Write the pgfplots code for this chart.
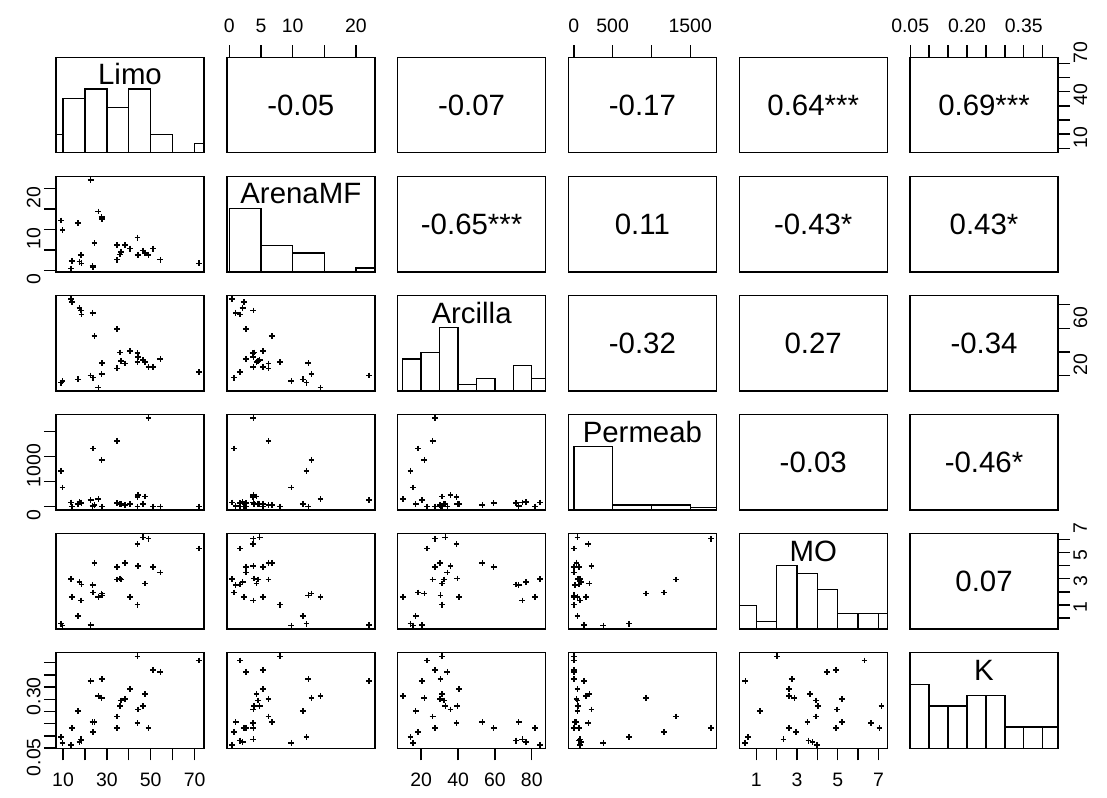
\documentclass[border=0pt]{standalone}
\usepackage{pgfplots}
\pgfplotsset{compat=1.18}
\usepackage{pgfplotstable}
\usepackage{fontspec}
\setmainfont{Liberation Sans}

\pgfplotstableread{
Limo Arena Arcilla Perm MO K
9.2 12.2 14.2 713 0.58 0.095
9.8 9.8 15.6 380 0.44 0.072
13.7 0.4 84.6 80 3.98 0.064
14.0 2.3 81.8 0 2.62 0.133
16.7 11.6 17.0 47 1.17 0.202
17.5 2.1 76.8 93 3.76 0.075
18.3 3.8 74.9 80 2.34 0.086
18.4 1.7 71.5 67 3.56 0.081
22.6 22.1 20.3 133 0.46 0.325
23.5 1.0 72.9 13 3.51 0.157
23.8 0.7 18.4 1160 2.95 0.117
24.4 6.7 53.2 33 5.21 0.157
26.1 14.4 10.0 153 2.62 0.264
27.6 13.0 21.7 933 2.87 0.256
27.9 12.5 30.5 0 2.74 0.333
34.6 2.6 59.3 67 4.91 0.133
34.6 6.2 26.2 1313 3.94 0.180
36.0 3.9 39.6 53 4.02 0.223
36.5 4.5 32.3 47 3.94 0.245
38.2 6.2 30.3 33 5.21 0.252
40.6 5.3 40.6 47 2.62 0.293
44.0 8.0 31.4 0 2.03 0.426
44.0 3.7 39.2 187 6.64 0.152
44.3 3.8 35.9 227 4.97 0.208
46.4 4.8 33.1 47 7.15 0.223
47.5 4.3 31.4 200 3.64 0.271
49.0 3.8 27.5 1767 7.05 0.133
51.0 5.3 27.5 0 4.91 0.371
54.4 2.6 34.2 0 4.47 0.363
71.9 1.7 23.1 0 6.31 0.409
}\soil

\newcommand{\tickfont}{\fontsize{19.5}{21}\selectfont}
\newcommand{\bigfont}{\fontsize{29.5}{33}\selectfont}

\pgfplotsset{
  panel/.style={scale only axis, width=148bp, height=95.5bp, anchor=south west,
    axis line style={line width=1.4bp}, xtick=\empty, ytick=\empty,
    tick align=outside, major tick length=12bp,
    tick style={line width=1.4bp, black},
    ticklabel style={font=\tickfont}},
  xLimo/.style={xmin=6.8,xmax=74.3}, yLimo/.style={ymin=6.8,ymax=74.3},
  xArena/.style={xmin=-0.4,xmax=23.0}, yArena/.style={ymin=-0.4,ymax=23.0},
  xArcilla/.style={xmin=7.2,xmax=87.5}, yArcilla/.style={ymin=7.2,ymax=87.5},
  xPerm/.style={xmin=-70,xmax=1837}, yPerm/.style={ymin=-70,ymax=1837},
  xMO/.style={xmin=0.16,xmax=7.43}, yMO/.style={ymin=0.16,ymax=7.43},
  xK/.style={xmin=0.0495,xmax=0.4405}, yK/.style={ymin=0.0495,ymax=0.4405},
  lowx/.style={xtick pos=left, xticklabel pos=left, xticklabel style={yshift=-9bp}},
  upx/.style={xtick pos=right, xticklabel pos=right, xticklabel style={yshift=9bp}},
  lefty/.style={ytick pos=left, yticklabel pos=left, yticklabel style={rotate=90, anchor=south, xshift=-9bp}},
  righty/.style={ytick pos=right, yticklabel pos=right, yticklabel style={rotate=90, anchor=north, xshift=11bp}},
  bLimo/.style={lowx, xtick={10,20,30,40,50,60,70}, xticklabels={10,{},30,{},50,{},70}},
  bArcilla/.style={lowx, xtick={20,40,60,80}, xticklabels={20,40,60,80}},
  bMO/.style={lowx, xtick={1,2,3,4,5,6,7}, xticklabels={1,{},3,{},5,{},7}},
  tArena/.style={upx, xtick={0,5,10,15,20}, xticklabels={0,5,10,{},20}},
  tPerm/.style={upx, xtick={0,500,1000,1500}, xticklabels={0,500,{},1500}},
  tK/.style={upx, xtick={0.05,0.1,0.15,0.2,0.25,0.3,0.35,0.4}, xticklabels={0.05,{},{},0.20,{},{},0.35,{}}},
  lArena/.style={lefty, ytick={0,5,10,15,20}, yticklabels={0,{},10,{},20}},
  lPerm/.style={lefty, ytick={0,500,1000,1500}, yticklabels={0,{},1000,{}}},
  lK/.style={lefty, ytick={0.05,0.1,0.15,0.2,0.25,0.3,0.35,0.4}, yticklabels={0.05,{},{},{},{},0.30,{},{}}},
  rLimo/.style={righty, ytick={10,20,30,40,50,60,70}, yticklabels={10,{},{},40,{},{},70}},
  rArcilla/.style={righty, ytick={20,40,60,80}, yticklabels={20,{},60,{}}},
  rMO/.style={righty, ytick={1,2,3,4,5,6,7}, yticklabels={1,{},3,{},5,{},7}},
  sc/.style={only marks, mark=+, mark size=2.9bp, black, mark options={line width=1.6bp}},
  hb/.style={ybar interval, draw=black, fill=white, line width=1.4bp},
}

% scatter panel: x var, y var, position, extra
\newcommand{\scp}[4]{%
\begin{axis}[panel, at={#3}, x#1, y#2, #4]
\addplot[sc] table[x=#1,y=#2]{\soil};
\end{axis}}
% text panel: x var, y var, position, extra, text
\newcommand{\ctp}[5]{%
\begin{axis}[panel, at={#3}, x#1, y#2, #4]
\node[font=\bigfont] at (rel axis cs:0.5,0.5) {#5};
\end{axis}}
% histogram panel: var, position, coordinates, name
\newcommand{\hsp}[4]{%
\begin{axis}[panel, at={#2}, x#1, ymin=0, ymax=1.5, axis on top]
\addplot[hb] coordinates {#3};
\node[font=\bigfont] at (rel axis cs:0.5,0.82) {#4};
\end{axis}}

\begin{document}
\begin{tikzpicture}
\useasboundingbox (0,0) rectangle (1107bp,798bp);
% row 1
\hsp{Limo}{(56bp,645.2bp)}{(0,0.2857) (10,0.8571) (20,1) (30,0.7143) (40,1) (50,0.2857) (60,0) (70,0.1429) (80,0)}{Limo}
\ctp{Arena}{Limo}{(226.8bp,645.2bp)}{tArena}{-0.05}
\ctp{Arcilla}{Limo}{(397.6bp,645.2bp)}{}{-0.07}
\ctp{Perm}{Limo}{(568.4bp,645.2bp)}{tPerm}{-0.17}
\ctp{MO}{Limo}{(739.2bp,645.2bp)}{}{0.64***}
\ctp{K}{Limo}{(910bp,645.2bp)}{tK,rLimo}{0.69***}
% row 2
\scp{Limo}{Arena}{(56bp,526.1bp)}{lArena}
\hsp{Arena}{(226.8bp,526.1bp)}{(0,1) (5,0.4118) (10,0.2941) (15,0) (20,0.0588) (25,0)}{ArenaMF}
\ctp{Arcilla}{Arena}{(397.6bp,526.1bp)}{}{-0.65***}
\ctp{Perm}{Arena}{(568.4bp,526.1bp)}{}{0.11}
\ctp{MO}{Arena}{(739.2bp,526.1bp)}{}{-0.43*}
\ctp{K}{Arena}{(910bp,526.1bp)}{}{0.43*}
% row 3
\scp{Limo}{Arcilla}{(56bp,407bp)}{}
\scp{Arena}{Arcilla}{(226.8bp,407bp)}{}
\hsp{Arcilla}{(397.6bp,407bp)}{(10,0.5) (20,0.6) (30,1) (40,0.1) (50,0.2) (60,0) (70,0.4) (80,0.2) (90,0)}{Arcilla}
\ctp{Perm}{Arcilla}{(568.4bp,407bp)}{}{-0.32}
\ctp{MO}{Arcilla}{(739.2bp,407bp)}{}{0.27}
\ctp{K}{Arcilla}{(910bp,407bp)}{rArcilla}{-0.34}
% row 4
\scp{Limo}{Perm}{(56bp,287.9bp)}{lPerm}
\scp{Arena}{Perm}{(226.8bp,287.9bp)}{}
\scp{Arcilla}{Perm}{(397.6bp,287.9bp)}{}
\hsp{Perm}{(568.4bp,287.9bp)}{(0,1) (500,0.08) (1000,0.08) (1500,0.04) (2000,0)}{Permeab}
\ctp{MO}{Perm}{(739.2bp,287.9bp)}{}{-0.03}
\ctp{K}{Perm}{(910bp,287.9bp)}{}{-0.46*}
% row 5
\scp{Limo}{MO}{(56bp,168.8bp)}{}
\scp{Arena}{MO}{(226.8bp,168.8bp)}{}
\scp{Arcilla}{MO}{(397.6bp,168.8bp)}{}
\scp{Perm}{MO}{(568.4bp,168.8bp)}{}
\hsp{MO}{(739.2bp,168.8bp)}{(0,0.375) (1,0.125) (2,1) (3,0.875) (4,0.625) (5,0.25) (6,0.25) (7,0.25) (8,0)}{MO}
\ctp{K}{MO}{(910bp,168.8bp)}{rMO}{0.07}
% row 6
\scp{Limo}{K}{(56bp,49.7bp)}{lK,bLimo}
\scp{Arena}{K}{(226.8bp,49.7bp)}{}
\scp{Arcilla}{K}{(397.6bp,49.7bp)}{bArcilla}
\scp{Perm}{K}{(568.4bp,49.7bp)}{}
\scp{MO}{K}{(739.2bp,49.7bp)}{bMO}
\hsp{K}{(910bp,49.7bp)}{(0.05,1) (0.10,0.6667) (0.15,0.6667) (0.20,0.8333) (0.25,0.8333) (0.30,0.3333) (0.35,0.3333) (0.40,0.3333) (0.45,0)}{K}
\end{tikzpicture}
\end{document}
